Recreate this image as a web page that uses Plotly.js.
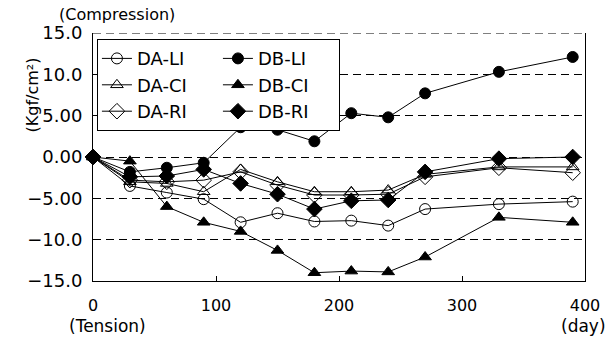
<!DOCTYPE html>
<html>
<head>
<meta charset="utf-8">
<script src="https://cdn.plot.ly/plotly-3.0.1.min.js"></script>
<style>
  html, body { margin: 0; padding: 0; background: #ffffff; }
  #chart { width: 614px; height: 342px; }
</style>
</head>
<body>
<div id="chart"></div>
<script>
// Elapsed days of each measurement
const days = [0, 30, 60, 90, 120, 150, 180, 210, 240, 270, 330, 390];

// Stress readings (Kgf/cm²), positive = compression, negative = tension
const daLI = [0, -3.5, -4.3, -5.1, -7.9, -6.8, -7.8, -7.7, -8.3, -6.3, -5.7, -5.4];
const daCI = [0, -3.0, -3.2, -4.2, -1.5, -3.0, -4.2, -4.2, -4.0, -2.1, -1.2, -1.2];
const daRI = [0, -2.8, -3.0, -2.8, -1.8, -3.4, -4.6, -4.6, -4.5, -2.4, -1.3, -1.9];
const dbLI = [0, -1.8, -1.3, -0.7, 3.6, 3.3, 1.9, 5.3, 4.8, 7.7, 10.3, 12.1];
const dbCI = [0, -0.5, -6.0, -7.9, -9.0, -11.3, -14.0, -13.8, -13.9, -12.1, -7.3, -7.9];
const dbRI = [0, -2.4, -2.3, -1.5, -3.2, -4.5, -6.3, -5.3, -5.2, -1.8, -0.2, 0.0];

// Axis tick labels
const yTickVals = [15, 10, 5, 0, -5, -10, -15];
const yTickText = ['15.0', '10.0', '5.00', '0.00', '\u22125.00', '\u221210.0', '\u221215.0'];
const xTickVals = [0, 100, 200, 300, 400];
const xTickText = ['0', '100', '200', '300', '400'];

const FONT = 'DejaVu Sans, Arial, sans-serif';

function series(name, y, symbol, group) {
  return {
    type: 'scatter',
    mode: 'lines+markers',
    name: name,
    x: days,
    y: y,
    legendgroup: group,
    line: { color: '#000000', width: 1 },
    marker: {
      symbol: symbol,
      size: symbol.indexOf('diamond') === 0 ? 12 : 11,
      color: '#000000',
      line: { color: '#000000', width: 1 }
    },
    cliponaxis: false
  };
}

const traces = [
  series('DA-LI', daLI, 'circle-open', 'A'),
  series('DA-CI', daCI, 'triangle-up-open', 'A'),
  series('DA-RI', daRI, 'diamond-open', 'A'),
  series('DB-LI', dbLI, 'circle', 'B'),
  series('DB-CI', dbCI, 'triangle-up', 'B'),
  series('DB-RI', dbRI, 'diamond', 'B')
];

const layout = {
  width: 614,
  height: 342,
  margin: { l: 93, r: 29, t: 33, b: 61 },
  paper_bgcolor: '#ffffff',
  plot_bgcolor: '#ffffff',
  font: { family: FONT, size: 16, color: '#000000' },
  showlegend: true,
  legend: {
    orientation: 'h',
    x: 0.008,
    y: 0.975,
    xanchor: 'left',
    yanchor: 'top',
    bgcolor: '#ffffff',
    bordercolor: '#000000',
    borderwidth: 1,
    font: { family: FONT, size: 18, color: '#000000' },
    entrywidth: 76,
    entrywidthmode: 'pixels',
    traceorder: 'grouped'
  },
  xaxis: {
    range: [0, 400],
    tickvals: xTickVals,
    ticktext: xTickText,
    ticks: 'inside',
    ticklen: 5,
    tickcolor: '#000000',
    showline: true,
    linecolor: '#000000',
    linewidth: 1,
    showgrid: false,
    zeroline: false,
    ticklabelstandoff: 10,
    tickfont: { family: FONT, size: 16 }
  },
  yaxis: {
    range: [-15, 15],
    tickvals: yTickVals,
    ticktext: yTickText,
    ticks: 'inside',
    ticklen: 5,
    tickcolor: '#000000',
    showline: true,
    mirror: true,
    linecolor: '#000000',
    linewidth: 1,
    showgrid: true,
    gridcolor: '#000000',
    gridwidth: 1,
    griddash: '8px,5px',
    zeroline: false,
    ticklabelstandoff: 6,
    tickfont: { family: FONT, size: 18 }
  },
  shapes: [
    // dashed top edge of the plotting frame
    { type: 'line', xref: 'paper', yref: 'y', x0: 0, x1: 1, y0: 15, y1: 15,
      line: { color: '#000000', width: 1, dash: '8px,5px' }, layer: 'below' }
  ],
  annotations: [
    { text: '(Compression)', xref: 'paper', yref: 'paper', x: -0.073, y: 1.075,
      xanchor: 'left', yanchor: 'middle', showarrow: false, font: { size: 16 } },
    { text: '(Tension)', xref: 'paper', yref: 'paper', x: -0.053, y: -0.18,
      xanchor: 'left', yanchor: 'middle', showarrow: false, font: { size: 17 } },
    { text: '(day)', xref: 'paper', yref: 'paper', x: 1.047, y: -0.18,
      xanchor: 'right', yanchor: 'middle', showarrow: false, font: { size: 17 } },
    { text: '(Kgf/cm\u00b2)', xref: 'paper', yref: 'paper', x: -0.125, y: 0.75,
      xanchor: 'center', yanchor: 'middle', textangle: -90, showarrow: false, font: { size: 16 } }
  ]
};

Plotly.newPlot('chart', traces, layout, { displayModeBar: false, staticPlot: true });
</script>
</body>
</html>
